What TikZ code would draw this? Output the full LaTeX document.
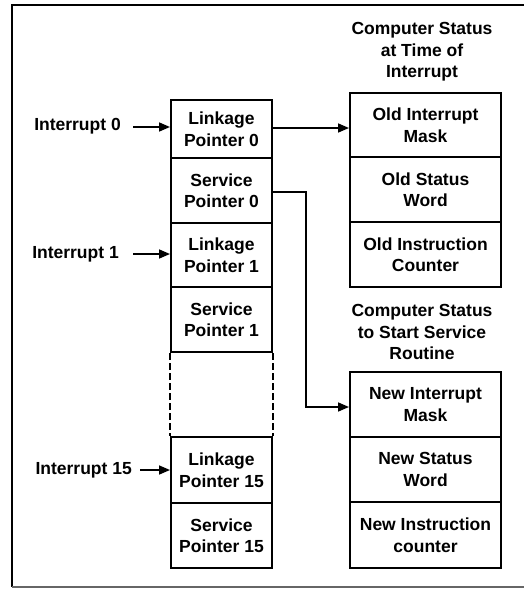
\documentclass[tikz,border=0pt]{standalone}
\usepackage{fontspec}
\setmainfont{Liberation Sans}
\usetikzlibrary{arrows.meta}
\begin{document}
\begin{tikzpicture}[x=1pt,y=-1pt,
  every node/.style={font=\fontsize{17.5}{21.5}\selectfont\bfseries},
  cell/.style={draw,line width=2pt,anchor=north west,align=center,inner sep=0pt},
  lcell/.style={cell,minimum width=101pt},
  rcell/.style={cell,minimum width=151pt},
  lab/.style={anchor=east,inner sep=0pt},
  conn/.style={line width=1.6pt,-{Triangle[length=11pt,width=9pt]}}]
\useasboundingbox (0,0) rectangle (524,589);
% frame
\draw[line width=1.6pt] (526,5) -- (12,5) -- (12,587);
\draw[line width=1.2pt,black!60] (12,587) -- (526,587);
% left column
\node[lcell,minimum height=58pt] (L0) at (170,99) {Linkage\\Pointer 0};
\node[lcell,minimum height=65pt] (S0) at (170,157) {Service\\Pointer 0};
\node[lcell,minimum height=64pt] (L1) at (170,222) {Linkage\\Pointer 1};
\node[lcell,minimum height=65pt] (S1) at (170,286) {Service\\Pointer 1};
\node[lcell,minimum height=66pt] (L15) at (170,436) {Linkage\\Pointer 15};
\node[lcell,minimum height=65pt] (S15) at (170,502) {Service\\Pointer 15};
\draw[line width=2pt,dash pattern=on 7pt off 3pt] (S1.south west) -- (L15.north west);
\draw[line width=2pt,dash pattern=on 7pt off 3pt] (S1.south east) -- (L15.north east);
% right column, old
\node[align=center,inner sep=0pt] (T1) at (422,52) {Computer Status\\at Time of\\Interrupt};
\node[rcell,minimum height=64pt] (OIM) at (349,92) {Old Interrupt\\Mask};
\node[rcell,minimum height=65pt] (OSW) at (349,156) {Old Status\\Word};
\node[rcell,minimum height=65pt] (OIC) at (349,221) {Old Instruction\\Counter};
% right column, new
\node[align=center,inner sep=0pt] (T2) at (422,332) {Computer Status\\to Start Service\\Routine};
\node[rcell,minimum height=65pt] (NIM) at (349,371) {New Interrupt\\Mask};
\node[rcell,minimum height=65pt] (NSW) at (349,436) {New Status\\Word};
\node[rcell,minimum height=66pt] (NIC) at (349,501) {New Instruction\\counter};
% interrupt labels
\node[lab] (I0) at (121,126) {Interrupt 0};
\node[lab] (I1) at (119,254) {Interrupt 1};
\node[lab] (I15) at (132,470) {Interrupt 15};
\coordinate (a0) at (133,127);
\coordinate (a1) at (133,254);
\coordinate (a15) at (140,470);
\draw[conn] (a0) -- (a0 -| L0.west);
\draw[conn] (a1) -- (a1 -| L1.west);
\draw[conn] (a15) -- (a15 -| L15.west);
% connectors
\coordinate (b0) at (271,128);
\draw[conn] (b0) -- (b0 -| OIM.west);
\coordinate (c0) at (271,192);
\coordinate (c1) at (306,407);
\draw[conn] (c0) -| (c1) -- (c1 -| NIM.west);
\end{tikzpicture}
\end{document}
